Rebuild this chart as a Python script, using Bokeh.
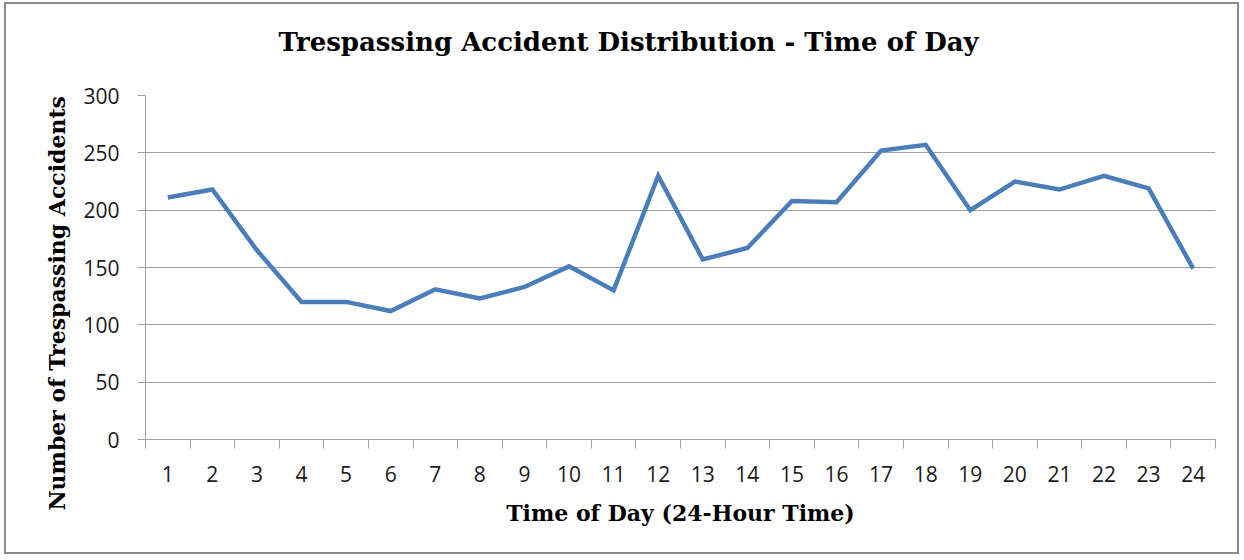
from bokeh.plotting import figure
from bokeh.models import FixedTicker, Range1d, Title
from bokeh.embed import file_html
from bokeh.resources import INLINE

# ---- data ----
hours = list(range(1, 25))
accidents = [211, 218, 165, 120, 120, 112, 131, 123, 133, 151, 130, 230,
             157, 167, 208, 207, 252, 257, 200, 225, 218, 230, 219, 149]
y_ticks = [0, 50, 100, 150, 200, 250, 300]

title_text = "Trespassing Accident Distribution - Time of Day"
x_label = "Time of Day (24-Hour Time)"
y_label = "Number of Trespassing Accidents"

GRID = "#a0a0a0"
LINE = "#4a7ebb"
TICK_FONT = "Open Sans"
SERIF = "DejaVu Serif"

p = figure(width=1235, height=552, output_backend="svg", toolbar_location=None,
           x_range=Range1d(0.5, 24.5), y_range=Range1d(0, 300),
           min_border_left=139, min_border_right=26, min_border_top=91,
           min_border_bottom=117)
p.styles = {"border": "2px solid #8c8c8c", "margin-left": "4px", "margin-top": "2px"}
p.outline_line_color = None
p.background_fill_color = "white"
p.border_fill_color = "white"

p.line(hours, accidents, line_color=LINE, line_width=4.5, line_join="miter")

# x axis: labels at each hour, tick marks between categories
xt = FixedTicker(ticks=hours, minor_ticks=[h + 0.5 for h in [0] + hours])
p.xaxis.ticker = xt
p.xaxis.major_tick_line_color = None
p.xaxis.minor_tick_line_color = GRID
p.xaxis.minor_tick_out = 9
p.xaxis.minor_tick_in = 0
p.xaxis.axis_line_color = GRID
p.xaxis.major_label_text_font = TICK_FONT
p.xaxis.major_label_text_font_size = "21px"
p.xaxis.major_label_text_color = "#1a1a1a"
p.xaxis.major_label_standoff = 17
p.xaxis.axis_label = x_label
p.xaxis.axis_label_text_font = SERIF
p.xaxis.axis_label_text_font_style = "bold"
p.xaxis.axis_label_text_font_size = "22px"
p.xaxis.axis_label_text_color = "black"
p.xaxis.axis_label_standoff = 15

# y axis
p.yaxis.ticker = FixedTicker(ticks=y_ticks)
p.yaxis.minor_tick_line_color = None
p.yaxis.major_tick_line_color = GRID
p.yaxis.major_tick_out = 8
p.yaxis.major_tick_in = 0
p.yaxis.axis_line_color = GRID
p.yaxis.major_label_text_font = TICK_FONT
p.yaxis.major_label_text_font_size = "21px"
p.yaxis.major_label_text_color = "#1a1a1a"
p.yaxis.major_label_standoff = 18

p.xgrid.grid_line_color = None
p.ygrid.ticker = FixedTicker(ticks=y_ticks)
p.ygrid.grid_line_color = GRID
p.ygrid.grid_line_width = 1

# spacer between the frame and the title
spacer = Title(text=" ", standoff=30, text_font_size="2px")
p.add_layout(spacer, "above")

title = Title(text=title_text, align="left", offset=133, standoff=10,
              text_font=SERIF, text_font_style="bold", text_font_size="26px",
              text_color="black")
p.add_layout(title, "above")

ylab = Title(text=y_label, align="left", offset=-71, standoff=22,
             text_font=SERIF, text_font_style="bold", text_font_size="22px",
             text_color="black")
p.add_layout(ylab, "left")

open("out.html", "w").write(file_html(p, INLINE))
